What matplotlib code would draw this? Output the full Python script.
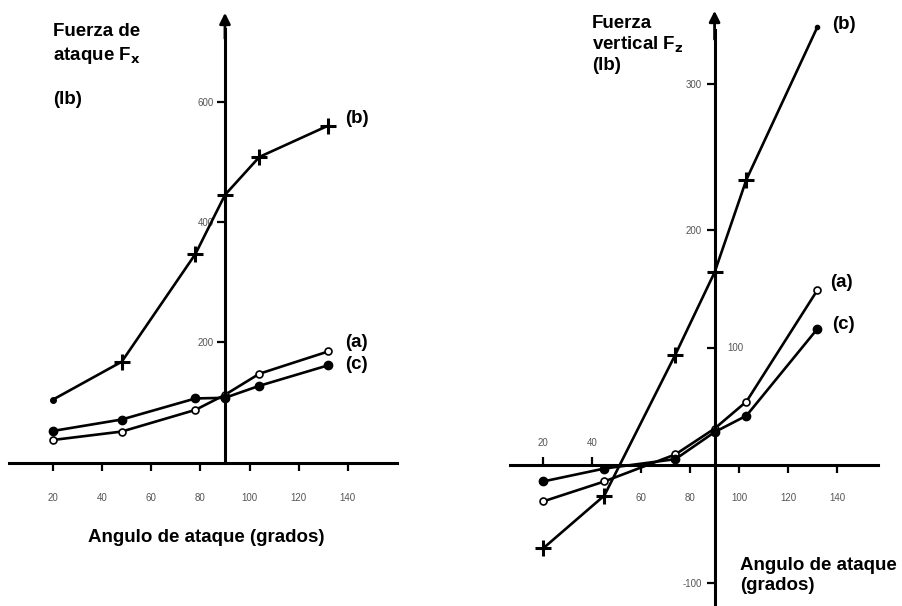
import numpy as np
import matplotlib.pyplot as plt

# angulo de ataque (grados)
ang_fx = [20, 48, 78, 90, 104, 132]
ang_fz = [20, 45, 74, 90, 103, 132]

# fuerza de ataque Fx (lb)
fx_a = [38, 52, 88, 113, 148, 185]
fx_b = [105, 168, 347, 445, 508, 560]
fx_c = [53, 72, 107, 108, 128, 162]

# fuerza vertical Fz (lb)
fz_a = [-31, -14, 9, 31, 54, 149]
fz_b = [-71, -26, 94, 164, 243, 373]
fz_c = [-14, -3, 5, 28, 42, 116]

x_ticks = [20, 40, 60, 80, 100, 120, 140]

W, H = 903, 606
plt.rcParams['font.family'] = ['Liberation Sans', 'DejaVu Sans']
fig = plt.figure(figsize=(W / 100, H / 100), dpi=100)


def box(x0, y0, x1, y1):
    # pixel box (top-left origin) -> figure fraction
    return [x0 / W, 1 - y1 / H, (x1 - x0) / W, (y1 - y0) / H]


def setup(ax):
    for s in ['top', 'right']:
        ax.spines[s].set_visible(False)
    ax.spines['bottom'].set_position(('data', 0))
    ax.spines['left'].set_position(('data', 90))
    ax.spines['bottom'].set_linewidth(2.2)
    ax.spines['left'].set_linewidth(2.2)
    ax.tick_params(length=6, width=1.6, labelsize=7, labelcolor='#555555')
    ax.patch.set_alpha(0)


lw = 1.9
bold = dict(fontweight='bold', fontsize=13.5)

# ---------------- left panel: Fx ----------------
ax1 = fig.add_axes(box(8.7, 10, 397, 499))
setup(ax1)
ax1.set_xlim(2, 160)
ax1.set_ylim(-60, 752)
ax1.spines['left'].set_bounds(0, 720)
ax1.annotate('', xy=(90, 752), xytext=(90, 700),
             arrowprops=dict(arrowstyle='-|>', color='k', lw=2, mutation_scale=16))
ax1.set_xticks(x_ticks)
ax1.set_xticklabels(['20', '40', '60', '80', '100', '120', '140'])
ax1.tick_params(axis='x', pad=16)
ax1.tick_params(axis='y', pad=2)
ax1.set_yticks([200, 400, 600])
ax1.set_yticklabels(['200', '400', '600'])

ax1.plot(ang_fx, fx_b, color='k', lw=lw)
ax1.plot(ang_fx[0], fx_b[0], 'o', color='k', ms=4)
ax1.plot(ang_fx[1:], fx_b[1:], '+', color='k', ms=11, mew=2.2)
ax1.plot(ang_fx, fx_a, color='k', lw=lw, marker='o', ms=5, mfc='white', mew=1.2)
ax1.plot(ang_fx, fx_c, color='k', lw=lw, marker='o', ms=6)

ax1.text(139, fx_b[-1] + 12, '(b)', va='center', **bold)
ax1.text(139, fx_a[-1] + 15, '(a)', va='center', **bold)
ax1.text(139, fx_c[-1] + 2, '(c)', va='center', **bold)

fig.text(53 / W, 1 - 32 / H, 'Fuerza de', va='center', **bold)
fig.text(53 / W, 1 - 56 / H, r'ataque F$_{\mathbf{x}}$', va='center', **bold)
fig.text(53 / W, 1 - 100 / H, '(lb)', va='center', **bold)
fig.text(206 / W, 1 - 538 / H, 'Angulo de ataque (grados)', ha='center', va='center', **bold)

# ---------------- right panel: Fz ----------------
ax2 = fig.add_axes(box(510, 8, 878, 606))
setup(ax2)
ax2.set_xlim(6.5, 156.7)
ax2.set_ylim(-120, 389)
ax2.spines['left'].set_bounds(-120, 370)
ax2.annotate('', xy=(90, 389), xytext=(90, 360),
             arrowprops=dict(arrowstyle='-|>', color='k', lw=2, mutation_scale=16))
ax2.set_xticks(x_ticks)
ax2.set_xticklabels(['', '', '60', '80', '100', '120', '140'])
ax2.tick_params(axis='x', pad=14)
ax2.tick_params(axis='y', pad=3)
for t in ax2.xaxis.get_major_ticks()[:2]:
    t.tick1line.set_marker(2)
ax2.text(20, 19, '20', ha='center', va='center', fontsize=7, color='#555555')
ax2.text(40, 19, '40', ha='center', va='center', fontsize=7, color='#555555')
ax2.set_yticks([-100, 100, 200, 324])
ax2.set_yticklabels(['-100', '', '200', '300'])
ax2.text(95, 100, '100', ha='left', va='center', fontsize=7, color='#555555')

ax2.plot(ang_fz, fz_b, color='k', lw=lw)
ax2.plot(ang_fz[:-1], fz_b[:-1], '+', color='k', ms=11, mew=2.2)
ax2.plot(ang_fz[-1], fz_b[-1], 'o', color='k', ms=3)
ax2.plot(ang_fz, fz_a, color='k', lw=lw, marker='o', ms=5, mfc='white', mew=1.2)
ax2.plot(ang_fz, fz_c, color='k', lw=lw, marker='o', ms=6)

ax2.text(138, fz_b[-1] + 2, '(b)', va='center', **bold)
ax2.text(137, fz_a[-1] + 6, '(a)', va='center', **bold)
ax2.text(138, fz_c[-1] + 4, '(c)', va='center', **bold)

fig.text(592 / W, 1 - 24 / H, 'Fuerza', va='center', **bold)
fig.text(592 / W, 1 - 45 / H, r'vertical F$_{\mathbf{z}}$', va='center', **bold)
fig.text(592 / W, 1 - 66 / H, '(lb)', va='center', **bold)
fig.text(740 / W, 1 - 565 / H, 'Angulo de ataque', va='center', **bold)
fig.text(740 / W, 1 - 585 / H, '(grados)', va='center', **bold)

fig.savefig('out.png', dpi=100)
